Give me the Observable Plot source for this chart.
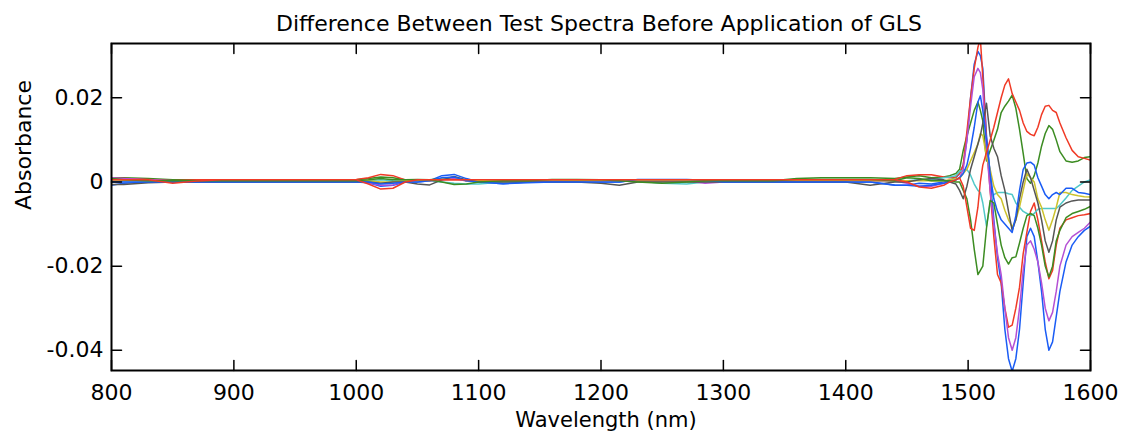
<!DOCTYPE html>
<html><head><meta charset="utf-8">
<script src="https://cdn.jsdelivr.net/npm/d3@7"></script>
<script src="https://cdn.jsdelivr.net/npm/@observablehq/plot@0.6"></script>
<style>body{margin:0;background:#fff}</style>
</head><body><div id="chart"></div>
<script>
const wavelength = [800,810,830,850,870,890,910,930,950,970,990,1000,1010,1020,1030,1040,1050,1060,1070,1080,1090,1100,1120,1140,1160,1180,1200,1215,1230,1250,1270,1285,1300,1320,1340,1360,1380,1400,1420,1440,1450,1460,1470,1480,1485,1490,
  1493,1496,1499,1502,1505,1508,1510,1512,1515,1518,1521,1524,1527,1530,1533,1536,1539,1542,1545,1548,1551,1554,1557,1560,1563,1566,1569,1572,1575,1580,1585,1590,1595,1600];

const blue1 = [-0.0008,-0.0003,0,0,0,0,0,0,0,0,0,0,-0.0002,-0.0010,-0.0008,0,0,0.0003,0.0015,0.0018,0.0008,0,-0.0004,0,0,0,0,0,0.0005,0.0005,0.0005,0.0003,0,0,0,0,0,0,0,-0.0007,-0.0008,-0.0003,-0.0005,0,0.0005,0.0010,
  0.0020,0.0040,0.0100,0.0200,0.0280,0.0310,0.0300,0.0270,0.0110,0.0020,-0.0090,-0.0180,-0.0240,-0.0350,-0.0420,-0.0450,-0.0420,-0.0350,-0.0240,-0.0130,-0.0110,-0.0130,-0.0190,-0.0260,-0.0350,-0.0400,-0.0380,-0.0320,-0.0260,-0.0190,-0.0150,-0.0130,-0.0115,-0.0105];
const green1 = [0.0010,0.0010,0.0008,0.0005,0.0005,0.0005,0.0005,0.0005,0.0005,0.0003,0.0003,0.0005,0.0008,0.0012,0.0010,0.0005,0.0006,0.0005,0.0008,0.0010,0.0003,0.0003,0.0002,0.0003,0.0005,0.0005,0.0003,0.0003,0.0003,0.0003,0.0003,0.0003,0.0003,0.0003,0.0003,0.0008,0.0010,0.0010,0.0010,0.0008,0.0012,0.0015,0.0010,0.0012,0.0015,0.0020,
  0.0030,0.0075,0.0110,0.0140,0.0170,0.0190,0.0170,0.0145,0.0050,0.0075,0.0099,0.0125,0.0165,0.0180,0.0192,0.0206,0.0175,0.0125,0.0068,0.0008,-0.0003,0.0015,0.0045,0.0085,0.0115,0.0134,0.0125,0.0100,0.0072,0.0050,0.0047,0.0050,0.0058,0.0060];
const red1 = [0.0008,0.0008,0.0006,0.0003,0.0005,0.0005,0.0005,0.0005,0.0005,0.0005,0.0005,0.0006,0.0010,0.0018,0.0015,0.0005,0.0005,0.0005,0.0005,0.0005,0.0005,0.0005,0.0005,0.0005,0.0005,0.0005,0.0005,0.0005,0.0005,0.0005,0.0005,0.0005,0.0005,0.0005,0.0005,0.0005,0.0005,0.0005,0.0005,0.0006,0.0015,0.0017,0.0017,0.0012,0.0010,0.0012,
  0.0020,0.0040,0.0120,0.0200,0.0270,0.0320,0.0340,0.0250,0.0100,-0.0020,-0.0130,-0.0220,-0.0240,-0.0300,-0.0345,-0.0340,-0.0300,-0.0250,-0.0170,-0.0120,-0.0070,-0.0050,-0.0090,-0.0140,-0.0190,-0.0230,-0.0210,-0.0150,-0.0110,-0.0090,-0.0085,-0.0080,-0.0078,-0.0075];
const cyan = [0.0003,0.0002,0.0002,0.0002,0.0002,0.0002,0.0002,0.0002,0.0002,0.0002,0.0002,0.0002,0.0003,0.0005,0.0003,0.0002,0.0002,0.0002,0,-0.0003,-0.0005,-0.0005,0,0.0002,0.0002,0.0002,0.0002,0.0002,0.0002,-0.0003,-0.0005,0,0.0002,0.0002,0.0002,0.0002,0.0002,0.0002,0.0002,0.0002,0.0003,0.0005,0.0005,0.0010,0.0012,0.0015,
  0.0025,0.0028,0.0030,0.0016,-0.0005,-0.0020,-0.0025,-0.0050,-0.0105,-0.0050,-0.0030,-0.0025,-0.0025,-0.0025,-0.0028,-0.0030,-0.0050,-0.0060,-0.0070,-0.0075,-0.0080,-0.0075,-0.0065,-0.0063,-0.0063,-0.0063,-0.0063,-0.0063,-0.0055,-0.0038,-0.0020,-0.0010,0,0.0005];
const magenta = [0.0010,0.0008,0.0005,0.0003,0.0003,0.0002,0.0002,0.0002,0.0002,0.0002,0.0002,0.0002,-0.0002,-0.0008,-0.0007,0.0002,0.0002,0.0002,0.0005,0.0008,0.0002,0.0002,0.0002,0.0002,0.0002,0.0002,0.0002,0.0002,0.0002,0.0002,0.0002,-0.0003,0,0.0002,0.0002,0.0002,0.0002,0.0002,0.0002,0.0002,-0.0003,-0.0010,-0.0010,-0.0003,0,0.0005,
  0.0010,0.0030,0.0100,0.0180,0.0250,0.0270,0.0260,0.0220,0.0080,-0.0020,-0.0100,-0.0170,-0.0220,-0.0300,-0.0370,-0.0400,-0.0370,-0.0300,-0.0210,-0.0150,-0.0140,-0.0160,-0.0190,-0.0240,-0.0300,-0.0330,-0.0310,-0.0260,-0.0200,-0.0150,-0.0130,-0.0120,-0.0110,-0.0095];
const yellow = [0.0005,0.0004,0.0003,0.0003,0.0003,0.0003,0.0003,0.0003,0.0003,0.0003,0.0003,0.0003,0.0003,0,0,0.0003,0.0003,0.0003,0.0008,0.0012,0.0003,0.0003,0.0003,0.0003,0.0005,0.0003,0.0003,0.0003,0.0003,0.0003,0.0003,0.0003,0.0003,0.0003,0.0003,0.0003,0.0003,0.0003,0.0003,0.0003,0.0003,0.0003,0.0003,0.0003,0.0005,0.0008,
  0.0008,0.0020,0.0030,0.0050,0.0070,0.0090,0.0115,0.0110,0.0060,0.0030,-0.0010,-0.0030,-0.0040,-0.0067,-0.0090,-0.0107,-0.0090,-0.0060,-0.0020,0.0020,0.0010,0,-0.0040,-0.0060,-0.0090,-0.0115,-0.0090,-0.0060,-0.0025,-0.0025,-0.0030,-0.0033,-0.0035,-0.0036];
const gray = [-0.0006,-0.0006,-0.0002,0,0,0,0,0,0,0,0,0,0,-0.0003,0,0,-0.0005,-0.0007,0.0005,0.0013,0.0005,0,0,0,0,0,-0.0003,-0.0008,0,0,0,0,0,0,0,0,0,0,-0.0008,0,0,0.0005,0.0008,0.0005,0,-0.0005,
  -0.0020,-0.0040,-0.0010,0.0030,0.0060,0.0090,0.0110,0.0140,0.0187,0.0110,0.0080,0.0060,0.0015,-0.0020,-0.0070,-0.0115,-0.0090,-0.0040,0,0.0030,0.0010,-0.0020,-0.0050,-0.0090,-0.0140,-0.0167,-0.0140,-0.0090,-0.0060,-0.0050,-0.0045,-0.0043,-0.0043,-0.0043];
const blue2 = [0,0,0,0,0,0,0,0,0,0,0,0,0,-0.0005,-0.0003,0,0,0.0003,0.0010,0.0012,0.0003,0,-0.0004,-0.0002,0,0,0,0,0.0006,0.0006,0.0006,0.0004,0,0,0,0,0,0,0,-0.0008,-0.0008,-0.0010,-0.0008,-0.0003,0,0.0005,
  0.0010,0.0020,0.0040,0.0080,0.0130,0.0190,0.0205,0.0170,0.0100,0.0020,-0.0040,-0.0070,-0.0090,-0.0100,-0.0110,-0.0120,-0.0080,-0.0020,0.0030,0.0045,0.0047,0.0040,0.0010,-0.0010,-0.0030,-0.0040,-0.0030,-0.0025,-0.0030,-0.0015,-0.0015,-0.0025,-0.0027,-0.0030];
const green2 = [0.0008,0.0005,0.0003,0.0003,0.0003,0.0003,0.0003,0.0003,0.0003,0.0003,0.0003,0.0003,0.0005,0.0008,0.0005,0.0005,0.0005,0.0005,0,-0.0006,-0.0005,0,0.0003,0.0003,0.0006,0.0006,0.0005,0.0003,0,-0.0003,0,0.0003,0.0003,0.0003,0.0003,0.0006,0.0006,0.0006,0.0006,0.0003,0.0010,0.0008,0.0003,0.0003,0.0003,0,
  0,-0.0020,-0.0040,-0.0090,-0.0160,-0.0220,-0.0210,-0.0200,-0.0110,-0.0044,-0.0050,-0.0100,-0.0150,-0.0180,-0.0195,-0.0180,-0.0178,-0.0145,-0.0110,-0.0080,-0.0075,-0.0080,-0.0110,-0.0150,-0.0200,-0.0226,-0.0200,-0.0140,-0.0115,-0.0085,-0.0075,-0.0070,-0.0065,-0.0058];
const red2 = [0.0005,0.0005,0.0005,-0.0003,0.0002,0.0005,0.0005,0.0005,0.0005,0.0005,0.0005,0.0005,-0.0005,-0.0017,-0.0015,0,0.0005,0.0005,0.0005,0.0005,0.0005,0.0005,0.0005,0.0005,0.0005,0.0005,0.0005,0.0005,0.0005,0.0005,0.0005,0.0005,0.0005,0.0005,0.0005,0.0005,0.0005,0.0005,0.0005,0.0005,0,-0.0012,-0.0015,-0.0008,0,0.0005,
  0.0010,-0.0010,-0.0060,-0.0110,-0.0115,-0.0060,0,0.0040,0.0070,0.0099,0.0130,0.0165,0.0200,0.0230,0.0245,0.0210,0.0190,0.0170,0.0140,0.0120,0.0113,0.0110,0.0130,0.0160,0.0180,0.0182,0.0170,0.0165,0.0140,0.0105,0.0075,0.0060,0.0056,0.0052];

const seriesNames = ["spectrum 1","spectrum 2","spectrum 3","spectrum 4","spectrum 5","spectrum 6","spectrum 7","spectrum 8","spectrum 9","spectrum 10"];
const seriesColors = ["#1a5cf5","#3c8c22","#f03a26","#50c8c8","#b450d4","#cdc22c","#555555","#1a5cf5","#3c8c22","#f03a26"];
const xTicks = [800,900,1000,1100,1200,1300,1400,1500,1600];
const yTicks = [-0.04,-0.02,0,0.02];
const titleText = "Difference Between Test Spectra Before Application of GLS";
const xLabel = "Wavelength (nm)";
const yLabel = "Absorbance";
const xDomain = [800,1600];
const yDomain = [-0.0448,0.0329];

const seriesValues = [blue1,green1,red1,cyan,magenta,yellow,gray,blue2,green2,red2];
const rows = seriesValues.flatMap((vals,i) => vals.map((v,j) => ({series: seriesNames[i], wl: wavelength[j], ab: v})));

const tickShape = {draw(ctx, l) { ctx.moveTo(0,0); ctx.lineTo(0,-l); }};
const tickOpts = {length: 10, anchor: "start", shape: tickShape, stroke: "black", strokeWidth: 1.5};

const chart = Plot.plot({
  width: 1127, height: 437,
  marginLeft: 111, marginRight: 37, marginTop: 43, marginBottom: 67,
  style: {fontFamily: "DejaVu Sans", fontSize: "22px", background: "white", color: "black"},
  x: {domain: xDomain},
  y: {domain: yDomain},
  color: {domain: seriesNames, range: seriesColors},
  marks: [
    Plot.line(rows, {x: "wl", y: "ab", z: "series", stroke: "series", strokeWidth: 1.5, clip: true}),
    Plot.frame({stroke: "black", strokeWidth: 2}),
    Plot.vector(xTicks, {x: d => d, y: () => yDomain[0], rotate: 0, ...tickOpts}),
    Plot.vector(xTicks, {x: d => d, y: () => yDomain[1], rotate: 180, ...tickOpts}),
    Plot.vector(yTicks, {x: () => xDomain[0], y: d => d, rotate: 90, ...tickOpts}),
    Plot.vector(yTicks, {x: () => xDomain[1], y: d => d, rotate: -90, ...tickOpts}),
    Plot.axisX({ticks: xTicks, tickSize: 0, tickPadding: 14, tickFormat: d => String(d), label: null}),
    Plot.axisY({ticks: yTicks, tickSize: 0, tickPadding: 8, tickFormat: d => d === 0 ? "0" : String(d), label: null}),
    Plot.text([titleText], {text: d => d, frameAnchor: "top", dx: -2, dy: -13, lineAnchor: "bottom", fontSize: 22}),
    Plot.text([xLabel], {text: d => d, frameAnchor: "bottom", dx: 5, dy: 56, lineAnchor: "bottom", fontSize: 21}),
    Plot.text([yLabel], {text: d => d, frameAnchor: "left", dx: -88, dy: 3, rotate: -90, fontSize: 22})
  ]
});
document.getElementById("chart").appendChild(chart);
</script>
</body></html>
